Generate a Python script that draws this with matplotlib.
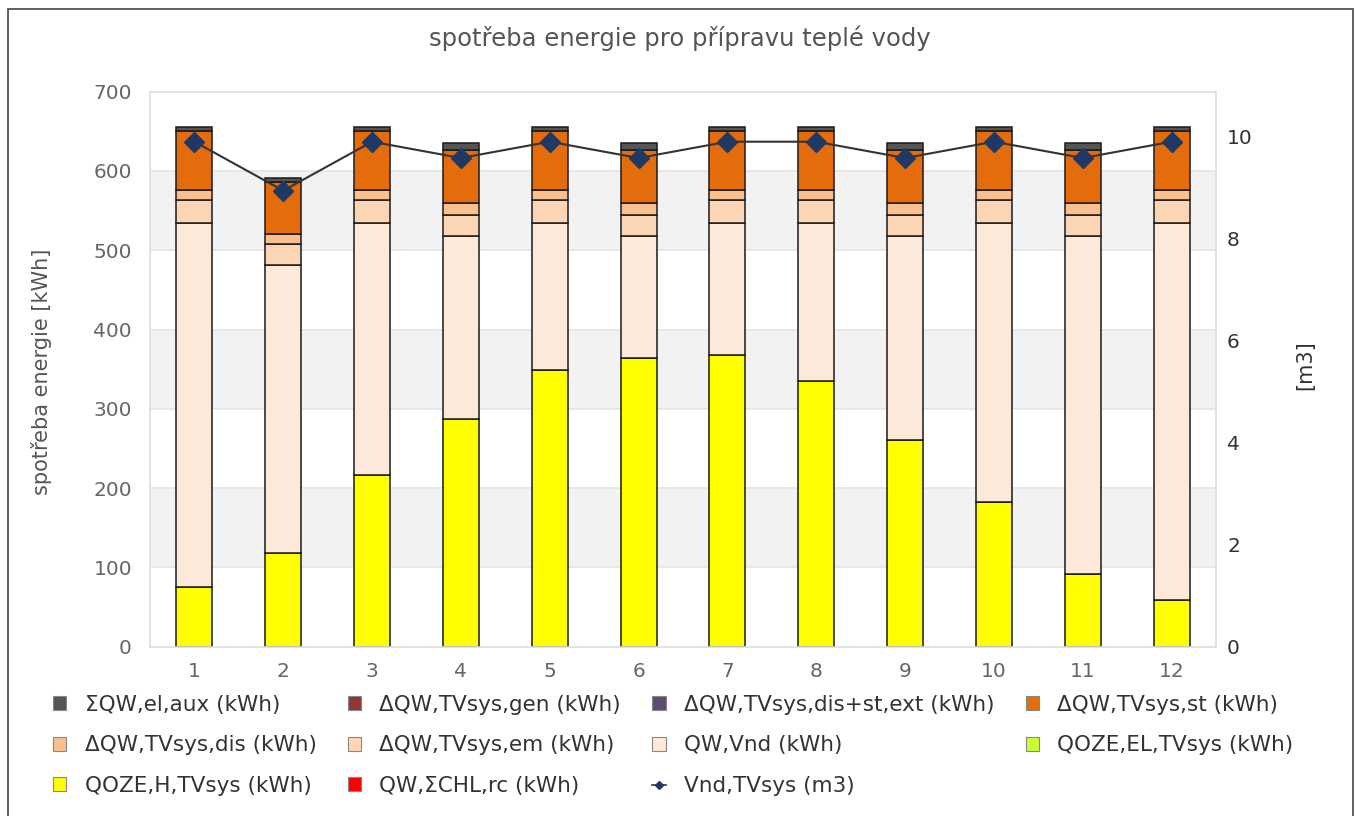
import matplotlib
matplotlib.use("Agg")
import matplotlib.pyplot as plt
from matplotlib.patches import Patch, Rectangle
from matplotlib.lines import Line2D
import numpy as np

plt.rcParams['font.family'] = ['DejaVu Sans']

months = [1, 2, 3, 4, 5, 6, 7, 8, 9, 10, 11, 12]
title = "spotřeba energie pro přípravu teplé vody"
ylabel_left = "spotřeba energie [kWh]"
ylabel_right = "[m3]"

# stacked series (kWh), bottom -> top
qoze_h = [75, 118, 217, 287, 349, 364, 368, 335, 261, 183, 92, 59]
qoze_el = [0, 0, 0, 0, 0, 0, 0, 0, 0, 0, 0, 0]
chl_rc = [0, 0, 0, 0, 0, 0, 0, 0, 0, 0, 0, 0]
qw_vnd = [459, 363, 317, 231, 185, 154, 166, 199, 257, 351, 426, 475]
d_em = [29, 26.5, 29, 26.5, 29, 26.5, 29, 29, 26.5, 29, 26.5, 29]
d_dis = [13, 12.5, 13, 15, 13, 15, 13, 13, 15, 13, 15, 13]
d_st = [74, 66, 74, 67, 74, 67, 74, 74, 67, 74, 67, 74]
d_ext = [0, 0, 0, 0, 0, 0, 0, 0, 0, 0, 0, 0]
d_gen = [0, 0, 0, 0, 0, 0, 0, 0, 0, 0, 0, 0]
el_aux = [6, 5.5, 6, 9, 6, 9, 6, 6, 9, 6, 9, 6]
# line series (m3)
vnd_m3 = [9.9, 8.94, 9.9, 9.58, 9.9, 9.58, 9.9, 9.9, 9.58, 9.9, 9.58, 9.9]

labels = {
    'aux': "ΣQW,el,aux (kWh)",
    'gen': "ΔQW,TVsys,gen (kWh)",
    'ext': "ΔQW,TVsys,dis+st,ext (kWh)",
    'st': "ΔQW,TVsys,st (kWh)",
    'dis': "ΔQW,TVsys,dis (kWh)",
    'em': "ΔQW,TVsys,em (kWh)",
    'vnd': "QW,Vnd (kWh)",
    'qel': "QOZE,EL,TVsys (kWh)",
    'qh': "QOZE,H,TVsys (kWh)",
    'chl': "QW,ΣCHL,rc (kWh)",
    'line': "Vnd,TVsys (m3)",
}
colors = {
    'aux': '#555555', 'gen': '#943634', 'ext': '#5f497a', 'st': '#e46c0a',
    'dis': '#fabf8f', 'em': '#fcd5b4', 'vnd': '#fde9d9', 'qel': '#ccff33',
    'qh': '#ffff00', 'chl': '#ff0000',
}

W, H = 1355, 816
fig = plt.figure(figsize=(W / 100, H / 100), dpi=100)

# outer frame
fig.patches.append(Rectangle((8 / W, -0.05), (1353 - 8) / W, 1.05 - 9 / H,
                             transform=fig.transFigure, fill=False,
                             edgecolor='#444444', linewidth=1.2))

left, right, top, bottom = 150, 1216, 91.7, 646.7
ax = fig.add_axes([left / W, 1 - bottom / H, (right - left) / W, (bottom - top) / H])
ax.set_xlim(0.5, 12.5)
ax.set_ylim(0, 700)

# background bands & grid
for lo in (100, 300, 500):
    ax.axhspan(lo, lo + 100, color='#f2f2f2', zorder=0, lw=0)
for y in range(100, 700, 100):
    ax.axhline(y, color='#e4e4e4', lw=1.2, zorder=0.5)

x = np.array(months)
bw = 0.405
stack = [('qh', qoze_h), ('qel', qoze_el), ('chl', chl_rc), ('vnd', qw_vnd),
         ('em', d_em), ('dis', d_dis), ('st', d_st), ('ext', d_ext),
         ('gen', d_gen), ('aux', el_aux)]
base = np.zeros(12)
for key, vals in stack:
    v = np.array(vals, dtype=float)
    mask = v > 0
    if mask.any():
        ax.bar(x[mask], v[mask], bw, bottom=base[mask], color=colors[key],
               edgecolor='#1a1a1a', linewidth=1.1, zorder=2)
    base += v

for s in ax.spines.values():
    s.set_color('#dddddd')
    s.set_linewidth(1.2)
ax.set_xticks(months)
ax.set_yticks(range(0, 701, 100))
ax.tick_params(axis='y', length=0, pad=13, labelsize=14.5, labelcolor='#666666')
ax.tick_params(axis='x', length=0, pad=11, labelsize=14.5, labelcolor='#666666')

ax2 = ax.twinx()
ax2.set_ylim(0, 10.88)
ax2.set_yticks([0, 2, 4, 6, 8, 10])
ax2.tick_params(axis='y', length=0, pad=8, labelsize=14.5, labelcolor='#333333')
for s in ax2.spines.values():
    s.set_visible(False)
ax2.plot(x, vnd_m3, color='#333333', lw=1.5, marker='D', markersize=10,
         markerfacecolor='#1f3864', markeredgecolor='#1f3864', zorder=5)

fig.text(680 / W, 1 - 38 / H, title, ha='center', va='center',
         fontsize=17.5, color='#555555')
fig.text(42 / W, 1 - 372 / H, ylabel_left, rotation=90, ha='center',
         va='center', fontsize=15, color='#555555')
fig.text(1305 / W, 1 - 365 / H, ylabel_right, rotation=90, ha='center',
         va='center', fontsize=15, color='#333333')

order = ['aux', 'dis', 'qh', 'gen', 'em', 'chl', 'ext', 'vnd', 'line', 'st', 'qel']
handles = []
for k in order:
    if k == 'line':
        handles.append(Line2D([], [], color='#333333', lw=1.2, marker='D',
                              markersize=4, markerfacecolor='#1f3864',
                              markeredgecolor='#1f3864'))
    else:
        handles.append(Patch(facecolor=colors[k], edgecolor='#888888', linewidth=0.8))
leg = fig.legend(handles, [labels[k] for k in order], ncol=4, loc='upper left',
                 bbox_to_anchor=(53 / W, 1 - 695 / H), frameon=False,
                 fontsize=15.5, handlelength=0.62, handleheight=0.62,
                 handletextpad=0.85, columnspacing=1.45, labelspacing=0.95,
                 borderpad=0, borderaxespad=0)
for t in leg.get_texts():
    t.set_color('#333333')

fig.savefig('out.png', dpi=100)
